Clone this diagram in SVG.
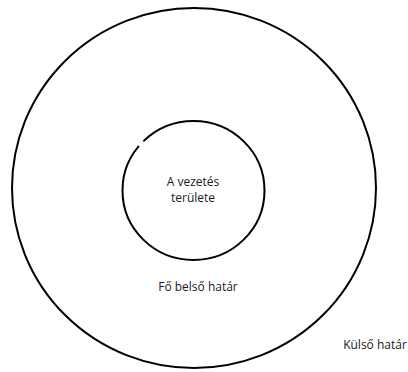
<svg xmlns="http://www.w3.org/2000/svg" width="408" height="372" viewBox="0 0 408 372">
<style>
.ring{fill:none;stroke:#000;stroke-width:2}
.lbl{font-family:"Open Sans","Liberation Sans",sans-serif;font-size:12px;fill:#1a1a1a;text-anchor:middle}
</style>
<rect width="408" height="372" fill="#fff"/>
<g id="outer">
<ellipse class="ring" cx="194" cy="188" rx="182" ry="180"/>
<text class="lbl" x="375" y="349">Külső határ</text>
</g>
<g id="inner">
<ellipse class="ring" cx="193.5" cy="190.5" rx="71" ry="69.5"/>
<line x1="139" y1="146" x2="143" y2="141" stroke="#fff" stroke-width="3"/>
<text class="lbl" x="193" y="186">A vezetés</text>
<text class="lbl" x="193" y="202">területe</text>
</g>
<g id="middle">
<text class="lbl" x="198" y="291">Fő belső határ</text>
</g>
<g id="connectors"></g>
</svg>
